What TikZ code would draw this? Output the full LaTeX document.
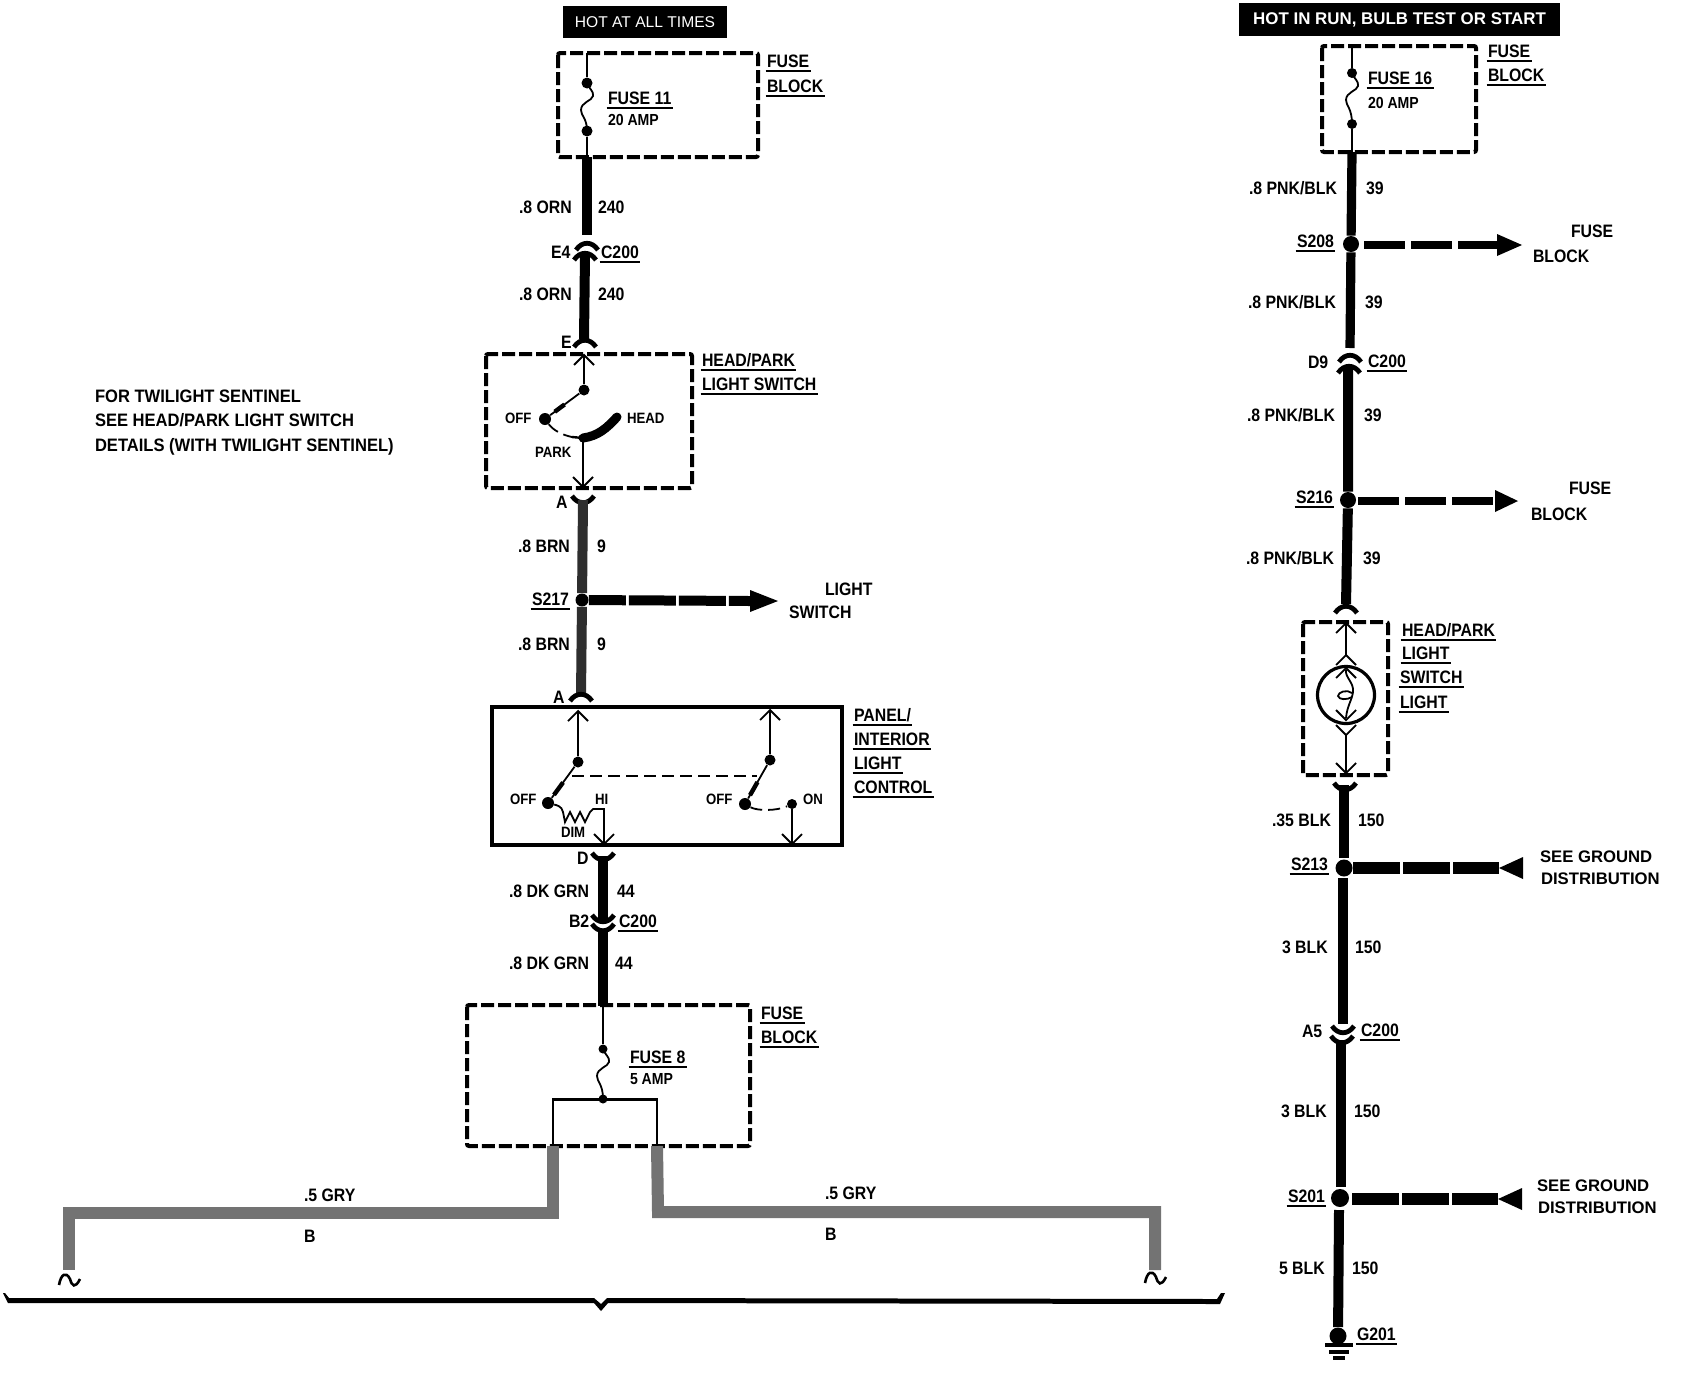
\documentclass[tikz,border=0pt]{standalone}
\usepackage{fontspec}
\setmainfont{Liberation Sans}[FakeStretch=0.88]
\newfontfamily\widef{Liberation Sans}
\newfontfamily\notef{Liberation Sans}[FakeStretch=0.92]
\usetikzlibrary{calc}
\newcommand\ul[1]{\hbox{\kern-.7pt\vtop{\hbox{\raisebox{0pt}[\height][0pt]{\kern.7pt#1\kern.7pt}}\kern1.6pt\hrule height 1.1pt}}}
\newcommand\lab[4]{\node[lbl] (#1) at (#2,#3) {#4};}
\newcommand\smlab[4]{\node[lbl,font=\fontsize{8}{9}\selectfont\bfseries] (#1) at (#2,#3) {#4};}
\newcommand\swlab[4]{\node[lbl,font=\fontsize{7.5}{9}\selectfont\bfseries] (#1) at (#2,#3) {#4};}
\newcommand\widelab[4]{\node[lbl,font=\widef\fontsize{8.35}{10}\selectfont\bfseries] (#1) at (#2,#3) {#4};}
% chevrons: arch (peak at y) and cup (bottom at y)
\newcommand\archc[2]{\draw[chev] (#1-11,#2+8) .. controls (#1-5,#2-1) and (#1+5,#2-1) .. (#1+11,#2+8);}
\newcommand\cupc[2]{\draw[chev] (#1-11,#2-8) .. controls (#1-5,#2+1) and (#1+5,#2+1) .. (#1+11,#2-8);}
\newcommand\barbU[2]{\draw[fine] (#1-10,#2+10) -- (#1,#2) -- (#1+10,#2+10);}
\newcommand\barbD[2]{\draw[fine] (#1-10,#2-10) -- (#1,#2) -- (#1+10,#2-10);}
\newcommand\arrR[3]{\fill (#1,#2-11) -- (#1+#3,#2) -- (#1,#2+11) -- cycle;}
\newcommand\arrL[3]{\fill (#1,#2) -- (#1+#3,#2-11) -- (#1+#3,#2+11) -- cycle;}
\newcommand\fusesq[3]{\draw[fine] (#1,#2) .. controls (#1+2,#2+6) and (#1+7,#2+8) .. (#1+6,#2+13) .. controls (#1+5,#2+18) and (#1-6,#2+19) .. (#1-6,#2+27) .. controls (#1-6,#2+33) and (#1,#2+35) .. (#1,#3);}
\newcommand\tildemark[2]{\draw[line width=1.3pt] (#1-12,#2+6) .. controls (#1-10,#2-5) and (#1-5,#2-8) .. (#1-1,#2) .. controls (#1+1,#2+7) and (#1+4,#2+10) .. (#1+9,#2);}
\tikzset{
  x=0.5pt,y=-0.5pt,
  lbl/.style={anchor=base west,inner sep=0pt,outer sep=0pt,font=\fontsize{9}{10}\selectfont\bfseries},
  dot/.style={circle,fill=black,inner sep=0pt,minimum size=#1},
  dot/.default=5.5pt,
  fine/.style={line width=0.9pt},
  dashbox/.style={line width=2pt,dash pattern=on 6.5pt off 2pt,rounded corners=1pt},
  wire/.style={line width=5pt},
  brnwire/.style={line width=5pt,draw=black!82},
  gry/.style={line width=6pt,draw=black!55},
  chev/.style={line width=2.4pt},
  branch/.style={line width=5pt,dash pattern=on 23.5pt off 1.5pt},
  branchB/.style={line width=4pt,dash pattern=on 20.5pt off 3pt},
}
\begin{document}
\begin{tikzpicture}
\path[use as bounding box,fill=white] (0,0) rectangle (1684,1376);

%% ---------- left column: headers and fuse 11
\node[fill=black,text=white,inner sep=0pt,minimum width=82pt,minimum height=16pt,font=\widef\fontsize{7.8}{9}\selectfont] (hotall) at (645,22) {HOT AT ALL TIMES};
\draw[dashbox] (558,53) rectangle (758,157);
\node[dot] (f11a) at (587,83) {};
\node[dot] (f11b) at (587,131) {};
\coordinate (f11t) at (587,53);
\coordinate (f11bot) at (587,157);
\draw[fine] (f11t) -- (f11a);
\fusesq{587}{83}{131}
\draw[fine] (f11b) -- (f11bot);
\lab{f11}{608}{104}{\ul{FUSE 11}}
\smlab{f11amp}{608}{125}{20 AMP}
\lab{fb1a}{767}{67}{\ul{FUSE}}
\lab{fb1b}{767}{92}{\ul{BLOCK}}

\coordinate (w1end) at (587,235);
\draw[wire] (f11bot) -- (w1end);
\archc{587}{242}
\archc{585}{252}
\coordinate (w2a) at (585,254);
\coordinate (w2b) at (584,339);
\draw[wire] (w2a) -- (w2b);
\archc{585}{339}
\lab{o1}{519}{213}{.8 ORN}
\lab{n1}{598}{213}{240}
\lab{e4}{551}{258}{E4}
\lab{c1}{601}{258}{\ul{C200}}
\lab{o2}{519}{300}{.8 ORN}
\lab{n2}{598}{300}{240}
\lab{e}{561}{348}{E}

%% ---------- head/park light switch
\draw[dashbox] (486,354) rectangle (692,488);
\lab{hp1}{702}{366}{\ul{HEAD/PARK}}
\lab{hp2}{702}{390}{\ul{LIGHT SWITCH}}
\coordinate (hs1) at (584,355);
\node[dot] (hs2) at (584,390) {};
\node[dot=6pt] (hs3) at (545,419) {};
\draw[fine] (hs1) -- (hs2);
\barbU{584}{355}
\draw[fine] (hs2) -- (hs3);
\draw[line width=2.2pt] ($(hs2)!.5!(hs3)$) -- ($(hs2)!.75!(hs3)$);
\coordinate (hs4) at (572,437);
\coordinate (hs5) at (583,438);
\coordinate (hs6) at (617,417);
\draw[fine,dash pattern=on 6pt off 3pt] (hs3) .. controls (553,430) and (562,435) .. (hs4);
\draw[line width=1.2pt] (hs4) -- (hs5);
\draw[line width=4.5pt,line cap=round] (hs5) .. controls (598,436) and (607,428) .. (hs6);
\coordinate (hs7) at (583,487);
\draw[fine] (hs5) -- (hs7);
\barbD{583}{487}
\swlab{off1}{505}{423}{OFF}
\swlab{head}{627}{423}{HEAD}
\swlab{park}{535}{457}{PARK}
\cupc{583}{504}
\lab{a1}{556}{508}{A}
\coordinate (w3a) at (583,500);
\node[dot=6.5pt] (s217) at (582,600) {};
\coordinate (w3b) at (581,696);
\draw[brnwire] (w3a) -- (s217) -- (w3b);
\archc{581}{693}
\lab{b1}{518}{552}{.8 BRN}
\lab{n9a}{597}{552}{9}
\lab{b2}{518}{650}{.8 BRN}
\lab{n9b}{597}{650}{9}
\lab{a2}{553}{703}{A}
\lab{s217t}{532}{605}{\ul{S217}}
\coordinate (s217e) at (750,601);
\draw[branch,dash phase=5pt] (s217) -- (s217e);
\arrR{750}{601}{28}
\lab{ls1}{825}{595}{LIGHT}
\lab{ls2}{789}{618}{SWITCH}

%% ---------- panel/interior light control
\draw[line width=1.8pt] (492,707) rectangle (842,845);
\coordinate (pa) at (578,711);
\node[dot] (pb) at (578,762) {};
\node[dot=6pt] (pc) at (548,803) {};
\draw[fine] (pa) -- (pb) -- (pc);
\barbU{578}{711}
\draw[line width=2.2pt] ($(pb)!.5!(pc)$) -- ($(pb)!.8!(pc)$);
\coordinate (qa) at (770,710);
\node[dot] (qb) at (770,760) {};
\node[dot=6pt] (qc) at (745,804) {};
\draw[fine] (qa) -- (qb) -- (qc);
\barbU{770}{710}
\draw[line width=2.2pt] ($(qb)!.5!(qc)$) -- ($(qb)!.8!(qc)$);
\coordinate (pl) at (572,776);
\coordinate (pr) at (757,776);
\draw[fine,dash pattern=on 6pt off 3pt] (pl) -- (pr);
\coordinate (pd) at (604,809);
\coordinate (pe) at (604,844);
\draw[fine] (pc) .. controls (556,805) and (562,806) .. (563,812) -- (565,822) -- (570,812) -- (575,822) -- (580,812) -- (585,822) -- (590,812) -- (593,809) -- (pd) -- (pe);
\barbD{604}{844}
\node[dot=5pt] (qd) at (792,804) {};
\coordinate (qe) at (792,844);
\draw[fine,dash pattern=on 6pt off 3pt] (qc) .. controls (757,811) and (777,811) .. (qd);
\draw[fine] (qd) -- (qe);
\barbD{792}{844}
\swlab{off2}{510}{804}{OFF}
\swlab{hi}{595}{804}{HI}
\swlab{dim}{561}{837}{DIM}
\swlab{off3}{706}{804}{OFF}
\swlab{on}{803}{804}{ON}
\lab{pi1}{854}{721}{\ul{PANEL/}}
\lab{pi2}{854}{745}{\ul{INTERIOR}}
\lab{pi3}{854}{769}{\ul{LIGHT}}
\lab{pi4}{854}{793}{\ul{CONTROL}}

\cupc{603}{861}
\lab{d}{577}{864}{D}
\coordinate (w4a) at (603,856);
\coordinate (w4b) at (603,920);
\draw[wire] (w4a) -- (w4b);
\cupc{603}{923}
\cupc{603}{932}
\coordinate (w5a) at (603,929);
\coordinate (w5b) at (603,1006);
\draw[wire] (w5a) -- (w5b);
\lab{g1}{509}{897}{.8 DK GRN}
\lab{n44a}{617}{897}{44}
\lab{b2c}{569}{927}{B2}
\lab{c2}{619}{927}{\ul{C200}}
\lab{g2}{509}{969}{.8 DK GRN}
\lab{n44b}{615}{969}{44}

%% ---------- fuse 8
\draw[dashbox] (467,1005) rectangle (750,1146);
\coordinate (f8t) at (603,1006);
\node[dot=4.5pt] (f8a) at (603,1049) {};
\node[dot=4.5pt] (f8b) at (603,1099) {};
\draw[fine] (f8t) -- (f8a);
\fusesq{603}{1049}{1099}
\lab{f8}{630}{1063}{\ul{FUSE 8}}
\smlab{f8amp}{630}{1084}{5 AMP}
\lab{fb3a}{761}{1019}{\ul{FUSE}}
\lab{fb3b}{761}{1043}{\ul{BLOCK}}
\coordinate (bl) at (553,1146);
\coordinate (br) at (657,1146);
\draw[line width=1.1pt] (bl) -- (553,1099) -- (f8b) -- (657,1099) -- (br);
\draw[line width=1.5pt] (553,1099) -- (657,1099);

%% ---------- gray wires and brace
\coordinate (gl) at (69,1270);
\coordinate (gr) at (1155,1270);
\draw[gry] (bl) -- (553,1213) -- (69,1213) -- (gl);
\draw[gry] (br) -- (658,1212) -- (1155,1212) -- (gr);
\tildemark{71}{1279}
\tildemark{1157}{1277}
\lab{gy1}{304}{1201}{.5 GRY}
\lab{gy2}{825}{1199}{.5 GRY}
\lab{bb1}{304}{1242}{B}
\lab{bb2}{825}{1240}{B}
\fill (3,1293) -- (5,1293) -- (9,1298) -- (594,1298) -- (601,1304) -- (607,1298) -- (1217,1299) -- (1221,1293) -- (1225,1293) -- (1220,1304) -- (608,1303) -- (601,1311) -- (594,1303) -- (8,1303) -- cycle;

%% ---------- twilight note
\node[lbl,align=left,font=\notef\fontsize{9}{12.25}\selectfont\bfseries,anchor=base west] (note) at (95,451) {FOR TWILIGHT SENTINEL\\SEE HEAD/PARK LIGHT SWITCH\\DETAILS (WITH TWILIGHT SENTINEL)};

%% ---------- right column
\node[fill=black,text=white,inner sep=0pt,minimum width=160.5pt,minimum height=16.5pt,font=\widef\fontsize{8.45}{10}\selectfont\bfseries] (hotrun) at (1399.5,19.5) {HOT IN RUN, BULB TEST OR START};
\draw[dashbox] (1322,46) rectangle (1476,152);
\coordinate (f16t) at (1352,46);
\node[dot=5pt] (f16a) at (1352,73) {};
\node[dot=5pt] (f16b) at (1352,124) {};
\coordinate (f16bot) at (1352,152);
\draw[line width=1.2pt] (f16t) -- (f16a);
\fusesq{1352}{73}{124}
\draw[fine] (f16b) -- (f16bot);
\lab{f16}{1368}{84}{\ul{FUSE 16}}
\smlab{f16amp}{1368}{108}{20 AMP}
\lab{fb2a}{1488}{57}{\ul{FUSE}}
\lab{fb2b}{1488}{81}{\ul{BLOCK}}

\node[dot=8pt] (s208) at (1351,244) {};
\coordinate (r1e) at (1350,348);
\draw[line width=4.6pt] (f16bot) -- (s208) -- (r1e);
\archc{1350}{354}
\archc{1349}{365}
\coordinate (r2a) at (1348,367);
\node[dot=8pt] (s216) at (1348,500) {};
\coordinate (r2b) at (1346,604);
\draw[line width=5pt] (r2a) -- (s216) -- (r2b);
\archc{1346}{605}
\lab{pk1}{1249}{194}{.8 PNK/BLK}
\lab{n39a}{1366}{194}{39}
\lab{s208t}{1297}{247}{\ul{S208}}
\lab{pk2}{1248}{308}{.8 PNK/BLK}
\lab{n39b}{1365}{308}{39}
\lab{d9}{1308}{368}{D9}
\lab{c3}{1368}{367}{\ul{C200}}
\lab{pk3}{1247}{421}{.8 PNK/BLK}
\lab{n39c}{1364}{421}{39}
\lab{s216t}{1296}{503}{\ul{S216}}
\lab{pk4}{1246}{564}{.8 PNK/BLK}
\lab{n39d}{1363}{564}{39}
\coordinate (b1s) at (1364,245);
\coordinate (b1e) at (1497,245);
\draw[branchB] (b1s) -- (b1e);
\arrR{1497}{245}{25}
\lab{fb4a}{1571}{237}{FUSE}
\lab{fb4b}{1533}{262}{BLOCK}
\coordinate (b2s) at (1358,501);
\coordinate (b2e) at (1495,501);
\draw[branchB] (b2s) -- (b2e);
\arrR{1495}{501}{23}
\lab{fb5a}{1569}{494}{FUSE}
\lab{fb5b}{1531}{520}{BLOCK}

%% ---------- head/park switch light
\draw[dashbox] (1303,622) rectangle (1388,775);
\coordinate (la) at (1346,623);
\coordinate (lb) at (1346,655);
\draw[line width=1.1pt] (la) -- (lb);
\barbU{1346}{623}
\barbU{1346}{655}
\node[circle,draw,line width=1.6pt,minimum size=28.5pt,inner sep=0pt] (lamp) at (1346,695) {};
\barbU{1346}{668}
\barbD{1346}{720}
\coordinate (lc) at (1346,670);
\coordinate (ld) at (1346,718);
\draw[fine] (lc) .. controls (1345,678) and (1354,682) .. (1353,692) .. controls (1352,700) and (1347,706) .. (ld);
\draw[fine] (1352,693) .. controls (1347,689) and (1338,692) .. (1338,696) .. controls (1339,700) and (1347,700) .. (1352,697);
\coordinate (le) at (1346,735);
\coordinate (lf) at (1346,773);
\barbD{1346}{735}
\draw[fine] (le) -- (lf);
\barbD{1346}{773}
\lab{hl1}{1402}{636}{\ul{HEAD/PARK}}
\lab{hl2}{1402}{659}{\ul{LIGHT}}
\lab{hl3}{1400}{683}{\ul{SWITCH}}
\lab{hl4}{1400}{708}{\ul{LIGHT}}

\cupc{1345}{791}
\coordinate (r3a) at (1344,785);
\node[dot=8.5pt] (s213) at (1344,868) {};
\coordinate (r3b) at (1344,858);
\coordinate (r3c) at (1343,878);
\coordinate (r3d) at (1343,1024);
\draw[wire] (r3a) -- (r3b);
\draw[wire] (r3c) -- (r3d);
\cupc{1343}{1034}
\cupc{1342}{1044}
\coordinate (r4a) at (1341,1040);
\coordinate (r4b) at (1341,1187);
\draw[wire] (r4a) -- (r4b);
\node[dot=9pt] (s201) at (1340,1198) {};
\coordinate (r5a) at (1339,1210);
\node[dot=8.5pt] (g201) at (1338,1336) {};
\draw[wire] (r5a) -- (g201);
\draw[line width=1.7pt] (1325,1345) -- (1353,1345);
\draw[line width=1.7pt] (1329,1352) -- (1349,1352);
\draw[line width=1.7pt] (1333,1358) -- (1345,1358);
\lab{bk1}{1272}{826}{.35 BLK}
\lab{n150a}{1358}{826}{150}
\lab{s213t}{1291}{870}{\ul{S213}}
\lab{bk2}{1282}{953}{3 BLK}
\lab{n150b}{1355}{953}{150}
\lab{a5}{1302}{1037}{A5}
\lab{c4}{1361}{1036}{\ul{C200}}
\lab{bk3}{1281}{1117}{3 BLK}
\lab{n150c}{1354}{1117}{150}
\lab{s201t}{1288}{1202}{\ul{S201}}
\lab{bk4}{1279}{1274}{5 BLK}
\lab{n150d}{1352}{1274}{150}
\lab{g201t}{1357}{1340}{\ul{G201}}

\coordinate (b3s) at (1353,868);
\coordinate (b3e) at (1499,868);
\draw[line width=6pt,dash pattern=on 23.5pt off 1.5pt] (b3s) -- (b3e);
\arrL{1499}{868}{24}
\widelab{sg1}{1540}{862}{SEE GROUND}
\widelab{sd1}{1541}{884}{DISTRIBUTION}
\coordinate (b4s) at (1352,1199);
\coordinate (b4e) at (1498,1199);
\draw[line width=6pt,dash pattern=on 23.5pt off 1.5pt] (b4s) -- (b4e);
\arrL{1498}{1199}{24}
\widelab{sg2}{1537}{1191}{SEE GROUND}
\widelab{sd2}{1538}{1213}{DISTRIBUTION}
\end{tikzpicture}
\end{document}
